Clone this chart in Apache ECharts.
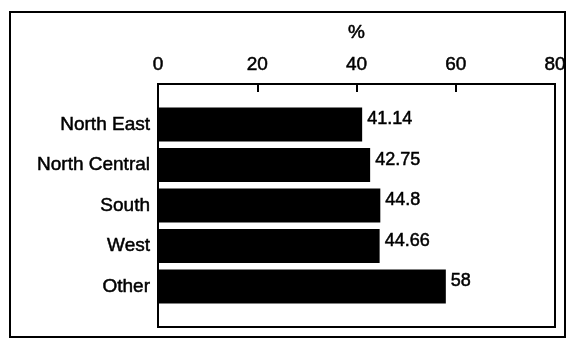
<!DOCTYPE html>
<html>

<head>
    <meta charset="utf-8">
    <title>Regions bar chart</title>
    <script src="https://cdn.jsdelivr.net/npm/echarts@6/dist/echarts.min.js"></script>
</head>

<body style="margin:0">
    <div id="main" style="width: 569px;height:341px;"></div>

    <script type="text/javascript">
        // chart data
        var regions = ['North East', 'North Central', 'South', 'West', 'Other'];
        var percents = [41.14, 42.75, 44.8, 44.66, 58];
        var xTicks = [0, 20, 40, 60, 80];

        // empty slot at both ends so the bars sit like in the original
        var yData = [''].concat(regions, ['']);
        var barData = ['-'].concat(percents, ['-']);

        var myChart = echarts.init(document.getElementById('main'));
        var font = 'Liberation Sans, Arial, sans-serif';
        // the scanned original has slightly heavy text
        var txt = { color: '#000', fontFamily: font, textBorderColor: '#000', textBorderWidth: 0.5 };

        var option = {
            animation: false,
            backgroundColor: '#fff',
            graphic: [{
                type: 'rect',
                shape: { x: 10, y: 12, width: 555, height: 325 },
                style: { fill: 'none', stroke: '#000', lineWidth: 2 }
            }],
            grid: {
                left: 158,
                right: 14,
                top: 84,
                bottom: 14,
                show: true,
                borderColor: '#000',
                borderWidth: 2
            },
            xAxis: {
                type: 'value',
                position: 'top',
                min: xTicks[0],
                max: xTicks[xTicks.length - 1],
                interval: 20,
                name: '%',
                nameLocation: 'middle',
                nameGap: 42,
                nameTextStyle: Object.assign({ fontSize: 19 }, txt),
                axisLine: { show: true, lineStyle: { color: '#000', width: 2 } },
                axisTick: { show: true, inside: true, length: 8, lineStyle: { color: '#000', width: 2 } },
                axisLabel: Object.assign({ fontSize: 19, margin: 10 }, txt),
                splitLine: { show: false }
            },
            yAxis: {
                type: 'category',
                inverse: true,
                boundaryGap: false,
                data: yData,
                axisLine: { show: true, lineStyle: { color: '#000', width: 2 } },
                axisTick: { show: false },
                axisLabel: Object.assign({ fontSize: 19, margin: 8 }, txt),
                splitLine: { show: false }
            },
            series: [{
                type: 'bar',
                data: barData,
                barWidth: 34,
                itemStyle: { color: '#000' },
                label: Object.assign({
                    show: true,
                    position: 'right',
                    distance: 5,
                    offset: [0, -5],
                    fontSize: 18
                }, txt)
            }]
        };

        myChart.setOption(option);
    </script>
</body>

</html>
